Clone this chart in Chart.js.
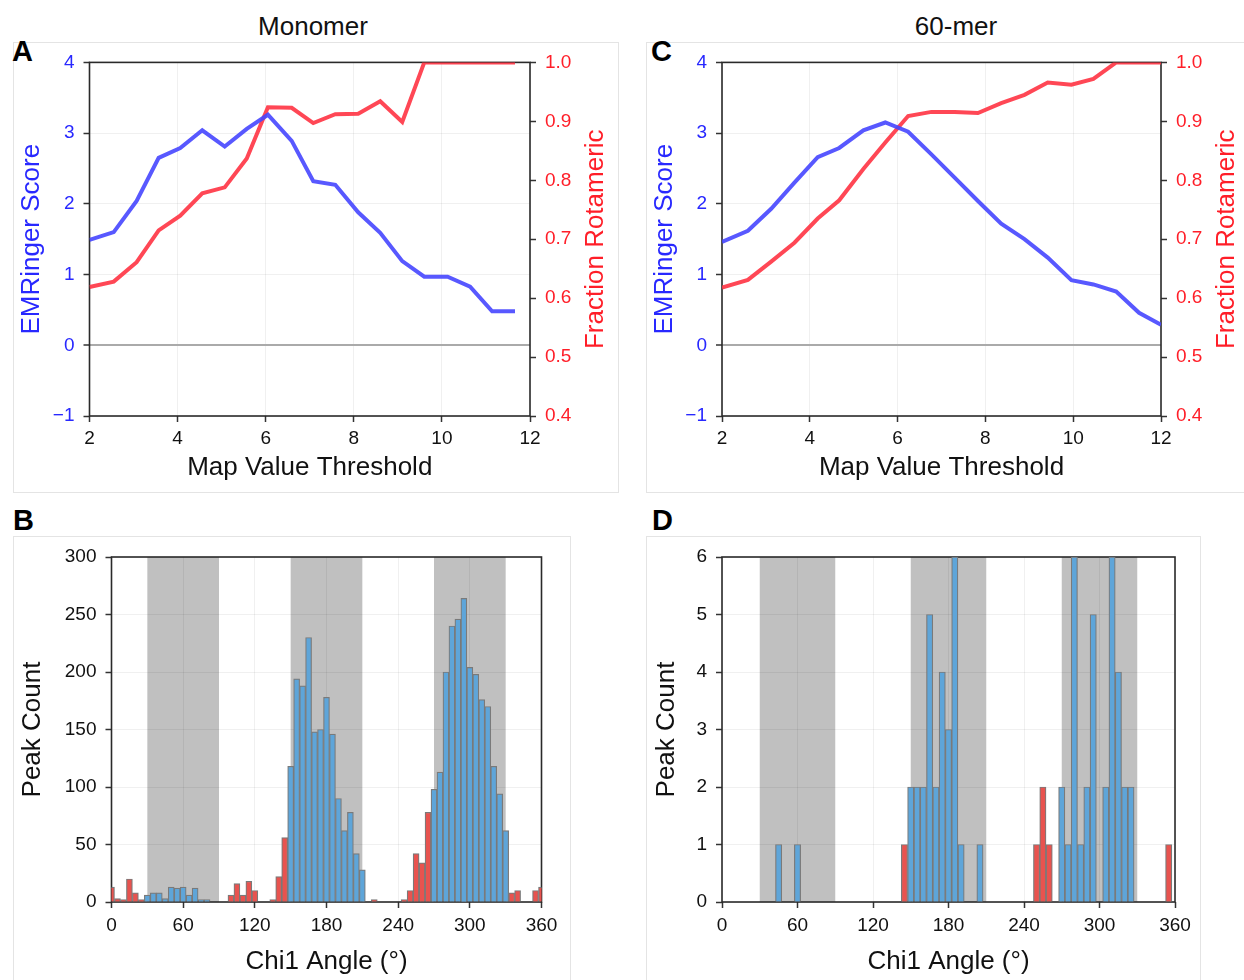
<!DOCTYPE html>
<html>
<head>
<meta charset="utf-8">
<script src="https://cdn.jsdelivr.net/npm/chart.js@4.4.0/dist/chart.umd.min.js"></script>
<style>
  body { margin:0; background:#fff; }
  #fig { position:relative; width:1244px; height:980px; overflow:hidden; font-family:"Liberation Sans", Arial, sans-serif; color:#111; }
  .frame { position:absolute; border:1px solid #e4e4e4; box-sizing:border-box; }
  .letter { position:absolute; font-weight:bold; font-size:29px; line-height:1; color:#000; }
  .head { position:absolute; font-size:26px; line-height:1; transform:translateX(-50%); white-space:nowrap; }
  canvas { position:absolute; }
</style>
</head>
<body>
<div id="fig">
  <div class="frame" style="left:13px;top:42px;width:606px;height:451px"></div>
  <div class="frame" style="left:646px;top:42px;width:610px;height:451px"></div>
  <div class="frame" style="left:13px;top:536px;width:558px;height:460px"></div>
  <div class="frame" style="left:646px;top:536px;width:555px;height:460px"></div>

  <div class="head" style="left:313px;top:13px">Monomer</div>
  <div class="head" style="left:956px;top:13px">60-mer</div>
  <div class="letter" style="left:12px;top:37px">A</div>
  <div class="letter" style="left:651px;top:37px">C</div>
  <div class="letter" style="left:13px;top:506px">B</div>
  <div class="letter" style="left:652px;top:506px">D</div>

  <canvas id="chartA" width="620" height="450" style="left:0;top:42px"></canvas>
  <canvas id="chartC" width="624" height="450" style="left:620px;top:42px"></canvas>
  <canvas id="chartB" width="620" height="444" style="left:0;top:536px"></canvas>
  <canvas id="chartD" width="624" height="444" style="left:620px;top:536px"></canvas>
</div>
<script>
// EMRinger threshold scan, monomer map
var monoThreshold = [2.0, 2.55, 3.07, 3.57, 4.06, 4.56, 5.07, 5.57, 6.05, 6.59, 7.08, 7.58, 8.1, 8.6, 9.1, 9.6, 10.13, 10.64, 11.14, 11.66];
var monoScore = [1.49, 1.60, 2.04, 2.65, 2.79, 3.04, 2.81, 3.06, 3.26, 2.89, 2.32, 2.27, 1.88, 1.59, 1.19, 0.97, 0.97, 0.83, 0.48, 0.48];
var monoRotameric = [0.619, 0.628, 0.661, 0.715, 0.740, 0.778, 0.788, 0.837, 0.924, 0.923, 0.897, 0.912, 0.913, 0.934, 0.899, 1.0, 1.0, 1.0, 1.0, 1.0];

// same scan, 60-mer map
var merThreshold = [2.0, 2.59, 3.12, 3.65, 4.18, 4.67, 5.22, 5.72, 6.24, 6.77, 7.30, 7.83, 8.36, 8.89, 9.42, 9.96, 10.46, 10.98, 11.5, 12.0];
var merScore = [1.46, 1.62, 1.93, 2.30, 2.66, 2.79, 3.04, 3.15, 3.02, 2.70, 2.37, 2.04, 1.72, 1.50, 1.24, 0.92, 0.86, 0.76, 0.46, 0.29];
var merRotameric = [0.618, 0.631, 0.662, 0.694, 0.735, 0.766, 0.819, 0.864, 0.909, 0.916, 0.916, 0.914, 0.931, 0.945, 0.966, 0.962, 0.972, 1.0, 1.0, 1.0];

// chi1 histogram bins (5 degree bins, centred on the angle)
var chiAngles = [0, 5, 10, 15, 20, 25, 30, 35, 40, 45, 50, 55, 60, 65, 70, 75, 80, 85, 90, 95,
  100, 105, 110, 115, 120, 125, 130, 135, 140, 145, 150, 155, 160, 165, 170, 175, 180, 185, 190, 195,
  200, 205, 210, 215, 220, 225, 230, 235, 240, 245, 250, 255, 260, 265, 270, 275, 280, 285, 290, 295,
  300, 305, 310, 315, 320, 325, 330, 335, 340, 345, 350, 355, 360];
var monoPeaks = [13, 3, 2, 20, 8, 2, 6, 8, 8, 3, 13, 12, 13, 6, 12, 2, 2, 0, 0, 0,
  6, 16, 6, 18, 10, 0, 0, 2, 22, 56, 118, 194, 188, 230, 148, 150, 178, 146, 90, 62,
  78, 42, 28, 0, 2, 0, 0, 0, 0, 2, 10, 42, 34, 78, 98, 113, 200, 240, 246, 264,
  204, 198, 176, 170, 118, 94, 62, 8, 10, 0, 0, 10, 13];
var merPeaks = [0, 0, 0, 0, 0, 0, 0, 0, 0, 1, 0, 0, 1, 0, 0, 0, 0, 0, 0, 0,
  0, 0, 0, 0, 0, 0, 0, 0, 0, 1, 2, 2, 2, 5, 2, 4, 3, 6, 1, 0,
  0, 1, 0, 0, 0, 0, 0, 0, 0, 0, 1, 2, 1, 0, 2, 1, 6, 1, 2, 5,
  0, 2, 6, 4, 2, 2, 0, 0, 0, 0, 0, 1, 0];
var rotamerWindows = [[30, 90], [150, 210], [270, 330]];

var FONT = '"Liberation Sans", Arial, sans-serif';
var tickFont = {family: FONT, size: 19};
var titleFont = {family: FONT, size: 26};
var BLUE = 'rgb(40,40,255)';
var RED = 'rgb(255,30,40)';
var GRID = 'rgba(0,0,0,0.06)';

// dark box around the plotting area
var frame = {
  id: 'frame',
  beforeDatasetsDraw: function(chart) {
    var a = chart.chartArea, c = chart.ctx;
    c.save();
    c.strokeStyle = '#2a2a2a';
    c.lineWidth = 1.6;
    c.strokeRect(a.left, a.top, a.right - a.left, a.bottom - a.top);
    c.restore();
  }
};

// right axis title, read bottom to top like the left one
var rightTitle = {
  id: 'rightTitle',
  afterDraw: function(chart, args, opts) {
    var s = chart.scales.y2, c = chart.ctx;
    c.save();
    c.translate(opts.x, (s.top + s.bottom) / 2);
    c.rotate(-Math.PI / 2);
    c.font = '26px ' + FONT;
    c.fillStyle = RED;
    c.textAlign = 'center';
    c.textBaseline = 'middle';
    c.fillText(opts.text, 0, 0);
    c.restore();
  }
};

// grey bands behind the histogram for the rotamer windows
var bands = {
  id: 'bands',
  beforeDraw: function(chart) {
    var a = chart.chartArea, x = chart.scales.x, c = chart.ctx;
    c.save();
    c.fillStyle = '#c0c0c0';
    rotamerWindows.forEach(function(w) {
      var l = x.getPixelForValue(w[0]), r = x.getPixelForValue(w[1]);
      c.fillRect(l, a.top, r - l, a.bottom - a.top);
    });
    c.restore();
  }
};

function inWindow(a) {
  return rotamerWindows.some(function(w) { return a >= w[0] && a <= w[1]; });
}

function lineChart(id, xs, score, rot, g) {
  new Chart(document.getElementById(id), {
    type: 'line',
    data: {
      datasets: [{
        data: xs.map(function(x, i) { return {x: x, y: score[i]}; }),
        yAxisID: 'y',
        borderColor: 'rgba(70,70,255,0.9)',
        borderWidth: 4,
        pointRadius: 0,
        tension: 0
      }, {
        data: xs.map(function(x, i) { return {x: x, y: rot[i]}; }),
        yAxisID: 'y2',
        borderColor: 'rgba(255,55,70,0.92)',
        borderWidth: 4,
        pointRadius: 0,
        tension: 0
      }]
    },
    options: {
      responsive: false,
      animation: false,
      layout: {padding: {top: g.padTop, left: 0, right: 0, bottom: 0}},
      plugins: {
        legend: {display: false},
        tooltip: {enabled: false},
        rightTitle: {text: 'Fraction Rotameric', x: g.y2x}
      },
      scales: {
        x: {
          type: 'linear', min: 2, max: 12,
          ticks: {stepSize: 2, color: '#111', font: tickFont, padding: 5.6, maxRotation: 0},
          grid: {color: GRID, tickColor: '#333', tickLength: 6, tickWidth: 1.5},
          border: {display: false},
          title: {display: true, text: 'Map Value Threshold', color: '#111', font: titleFont, padding: {top: 0, bottom: 8.4}},
          afterFit: function(s) { s.height = g.xh; }
        },
        y: {
          position: 'left', min: -1, max: 4,
          ticks: {stepSize: 1, color: BLUE, font: tickFont, padding: 9,
            callback: function(v) { return v < 0 ? '\u2212' + Math.abs(v) : v; }},
          grid: {
            color: function(c) { return c.tick && c.tick.value === 0 ? '#aaa' : GRID; },
            lineWidth: function(c) { return c.tick && c.tick.value === 0 ? 2 : 1; },
            tickColor: '#333', tickLength: 6, tickWidth: 1.5
          },
          border: {display: false},
          title: {display: true, text: 'EMRinger Score', color: BLUE, font: titleFont, padding: {top: g.ytp, bottom: 0}},
          afterFit: function(s) { s.width = g.yw; }
        },
        y2: {
          position: 'right', min: 0.4, max: 1.0,
          ticks: {stepSize: 0.1, color: RED, font: tickFont, padding: 9,
            callback: function(v) { return v.toFixed(1); }},
          grid: {drawOnChartArea: false, tickColor: '#333', tickLength: 6, tickWidth: 1.5},
          border: {display: false},
          title: {display: false},
          afterFit: function(s) { s.width = g.y2w; }
        }
      }
    },
    plugins: [frame, rightTitle]
  });
}

function histChart(id, peaks, ymax, step, g) {
  new Chart(document.getElementById(id), {
    type: 'bar',
    data: {
      datasets: [{
        data: chiAngles.map(function(a, i) { return {x: a, y: peaks[i]}; }),
        backgroundColor: chiAngles.map(function(a) { return inWindow(a) ? '#5ea5d9' : '#e8534f'; }),
        borderColor: '#7a7a7a',
        borderWidth: 1.2,
        borderSkipped: 'bottom',
        barPercentage: 1,
        categoryPercentage: 1,
        clip: 0
      }]
    },
    options: {
      responsive: false,
      animation: false,
      layout: {padding: {top: g.padTop, left: 0, right: g.padRight, bottom: 0}},
      plugins: {legend: {display: false}, tooltip: {enabled: false}},
      scales: {
        x: {
          type: 'linear', min: 0, max: 360, offset: false,
          ticks: {stepSize: 60, color: '#111', font: tickFont, padding: 6.6, maxRotation: 0},
          grid: {offset: false, color: GRID, tickColor: '#333', tickLength: 6, tickWidth: 1.5},
          border: {display: false},
          title: {display: true, text: 'Chi1 Angle (\u00b0)', color: '#111', font: titleFont, padding: {top: 0, bottom: 2.4}},
          afterFit: function(s) { s.height = g.xh; }
        },
        y: {
          min: 0, max: ymax,
          ticks: {stepSize: step, color: '#111', font: tickFont, padding: 9},
          grid: {color: GRID, tickColor: '#333', tickLength: 6, tickWidth: 1.5},
          border: {display: false},
          title: {display: true, text: 'Peak Count', color: '#111', font: titleFont, padding: {top: g.ytp, bottom: 0}},
          afterFit: function(s) { s.width = g.yw; }
        }
      }
    },
    plugins: [bands, frame]
  });
}

lineChart('chartA', monoThreshold, monoScore, monoRotameric,
  {padTop: 19, yw: 89.5, y2w: 90, xh: 76, ytp: 16.4, y2x: 596});
lineChart('chartC', merThreshold, merScore, merRotameric,
  {padTop: 19, yw: 102, y2w: 83, xh: 76, ytp: 29.4, y2x: 607});
histChart('chartB', monoPeaks, 300, 50,
  {padTop: 21, padRight: 78.5, yw: 111.5, xh: 78, ytp: 17.4});
histChart('chartD', merPeaks, 6, 1,
  {padTop: 21, padRight: 69, yw: 102, xh: 78, ytp: 31.4});
</script>
</body>
</html>
